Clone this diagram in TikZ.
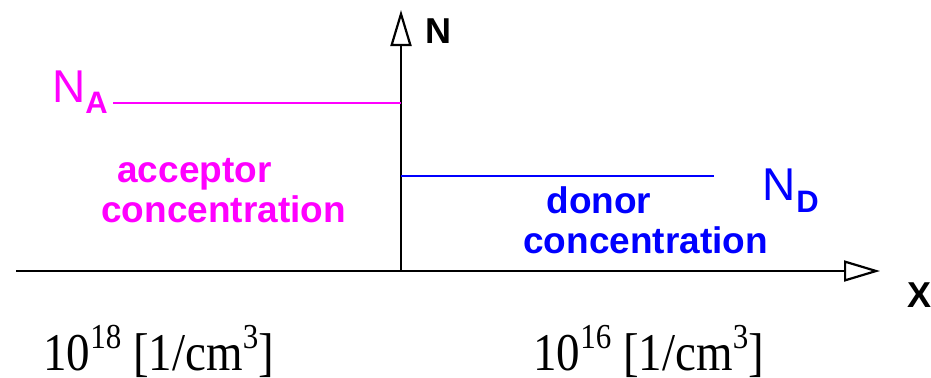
\documentclass[tikz,border=0pt]{standalone}
\usepackage{fontspec}
\setmainfont{Liberation Serif}
\setsansfont{Liberation Sans}
\usetikzlibrary{arrows.meta}
\definecolor{accmag}{RGB}{255,0,255}
\definecolor{donblue}{RGB}{0,0,255}
\newcommand{\supnum}[1]{\raisebox{9.5pt}{\fontsize{15.5}{15.5}\selectfont #1}}
\newcommand{\unitline}[1]{\scalebox{1}[1.13]{\fontsize{23.5}{23.5}\selectfont #1}}
\begin{document}
\begin{tikzpicture}[x=0.5pt,y=-0.5pt,
  axis/.style={line width=1.25pt, draw=black, -{Triangle[open,length=18pt,width=10.5pt,line width=1.1pt]}},
  lvl/.style={line width=1pt},
  txt/.style={inner sep=0pt, anchor=base west},
  conc/.style={txt, font=\sffamily\bfseries\fontsize{18.5}{18.5}\selectfont},
  bigN/.style={txt, font=\sffamily\fontsize{23}{23}\selectfont},
  subl/.style={txt, font=\sffamily\bfseries\fontsize{15.5}{15.5}\selectfont},
  axlab/.style={txt, font=\sffamily\bfseries\fontsize{18}{18}\selectfont},
  units/.style={txt, font=\rmfamily}]
\useasboundingbox (0,0) rectangle (931,377);
% axes
\coordinate (O) at (401,271);
\coordinate (Ytip) at (401,10);
\coordinate (Xstart) at (16,271);
\coordinate (Xtip) at (880,271);
\draw[axis] (O) -- (Ytip);
\draw[axis] (Xstart) -- (Xtip);
\node[axlab] (Nlab) at (425,43) {N};
\node[axlab] (Xlab) at (907,307) {X};
% acceptor level
\coordinate (NAstart) at (113,103);
\coordinate (NAend) at (401,103);
\draw[lvl, accmag] (NAstart) -- (NAend);
\node[bigN, text=accmag] (NAN) at (52,102) {N};
\node[subl, text=accmag] (NAsub) at (85,113) {A};
\node[conc, text=accmag] (acc1) at (117,182) {acceptor};
\node[conc, text=accmag] (acc2) at (101,222) {concentration};
% donor level
\coordinate (NDstart) at (401,176);
\coordinate (NDend) at (714,176);
\draw[lvl, donblue] (NDstart) -- (NDend);
\node[bigN, text=donblue] (NDN) at (762,200) {N};
\node[subl, text=donblue] (NDsub) at (796,212) {D};
\node[conc, text=donblue] (don1) at (546,213) {donor};
\node[conc, text=donblue] (don2) at (523,253) {concentration};
% units
\node[units] (u1) at (43,370) {\unitline{10\supnum{18} [1/cm\supnum{3}]}};
\node[units] (u2) at (533,370) {\unitline{10\supnum{16} [1/cm\supnum{3}]}};
\end{tikzpicture}
\end{document}
